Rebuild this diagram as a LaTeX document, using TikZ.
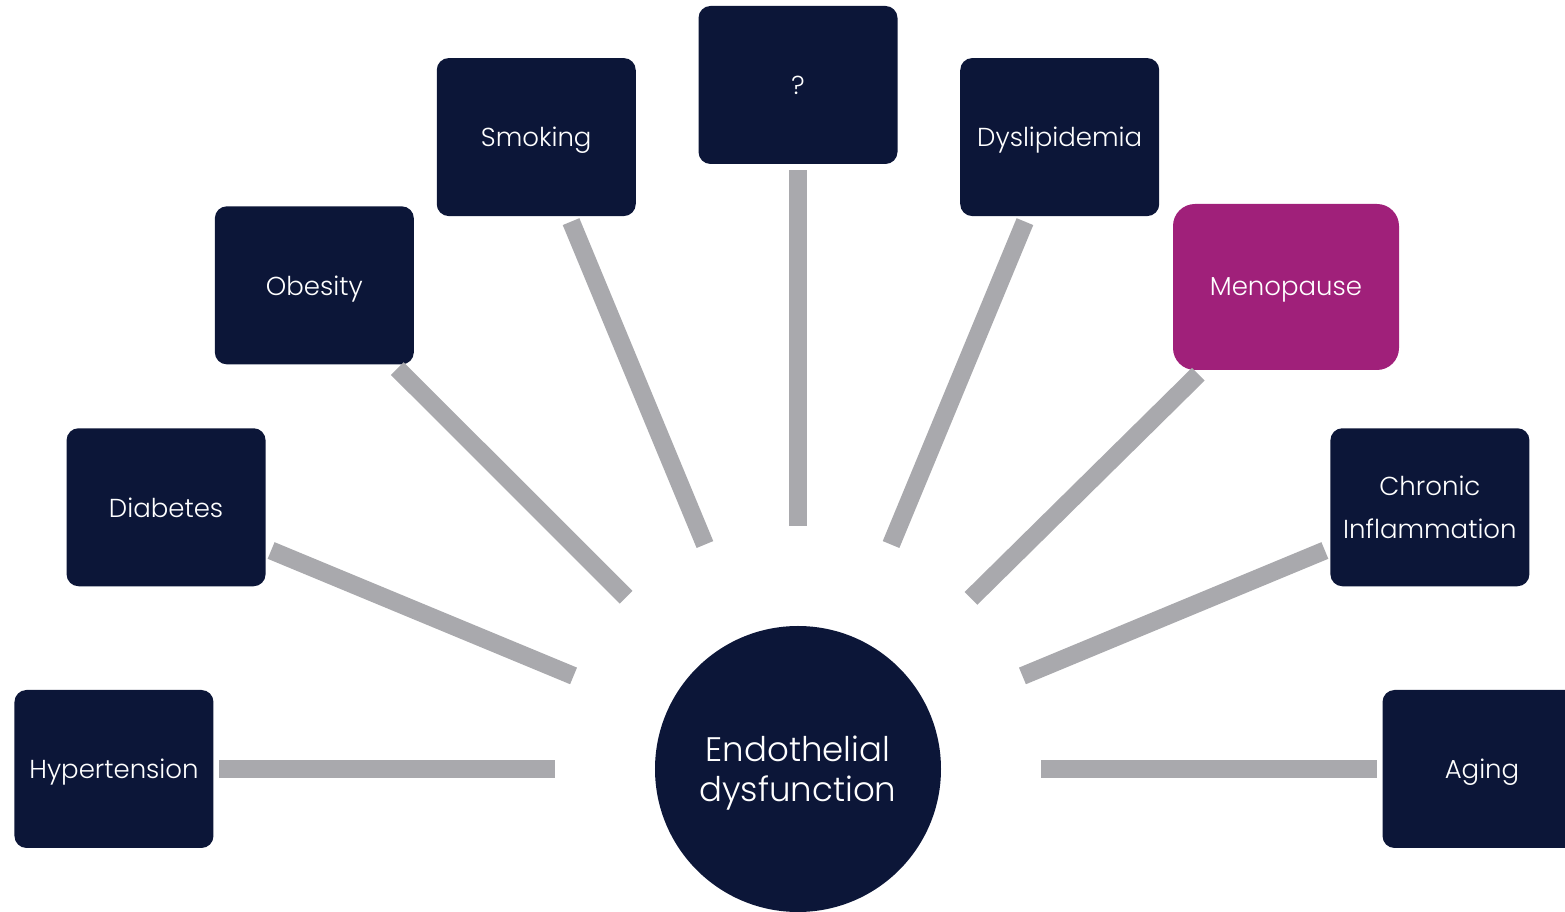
\documentclass[tikz,border=0pt]{standalone}
\usepackage{fontspec}
\setmainfont{Poppins}[UprightFont={* Light}]
\definecolor{navy}{HTML}{0C1638}
\definecolor{plum}{HTML}{A0207A}
\definecolor{spokegray}{HTML}{A9A9AD}
\begin{document}
\begin{tikzpicture}[x=1pt,y=1pt,
  factor/.style={fill=navy, rounded corners=12pt, minimum width=199pt,
    minimum height=158pt, text=white, font=\fontsize{26}{43}\selectfont,
    align=center, inner sep=0pt, outer sep=0pt, text depth=0pt},
  hub/.style={circle, fill=navy, minimum size=286pt, text=white,
    font=\fontsize{34}{40}\selectfont, align=center, inner sep=0pt,
    outer sep=0pt, text depth=0pt},
  spoke/.style={draw=spokegray, line width=18pt, shorten <=100pt, shorten >=6pt}]
\useasboundingbox (-798,-143) rectangle (767,769);

% central hub
\node[hub] (hub) at (0,0) {Endothelial\\dysfunction};

% risk factors on an arc of radius 684
\node[factor] (hyp)  at (180:684pt)   {Hypertension};
\node[factor] (diab) at (157.5:684pt) {Diabetes};
\node[factor] (obes) at (135:684pt)   {Obesity};
\node[factor] (smok) at (112.5:684pt) {Smoking};
\node[factor] (unk)  at (90:684pt)    {?};
\node[factor] (dysl) at (67.5:684pt)  {Dyslipidemia};
\node[factor, fill=plum, rounded corners=22pt, minimum width=226pt,
      minimum height=166pt] (meno) at (488,482) {Menopause};
\node[factor] (chro) at (22.5:684pt)  {Chronic\\Inflammation};
\node[factor] (agin) at (0:684pt)     {Aging};

% spokes
\foreach \n in {hyp,diab,obes,smok,unk,dysl,meno,chro,agin}
  \draw[spoke] (hub) -- (\n);
\end{tikzpicture}
\end{document}
